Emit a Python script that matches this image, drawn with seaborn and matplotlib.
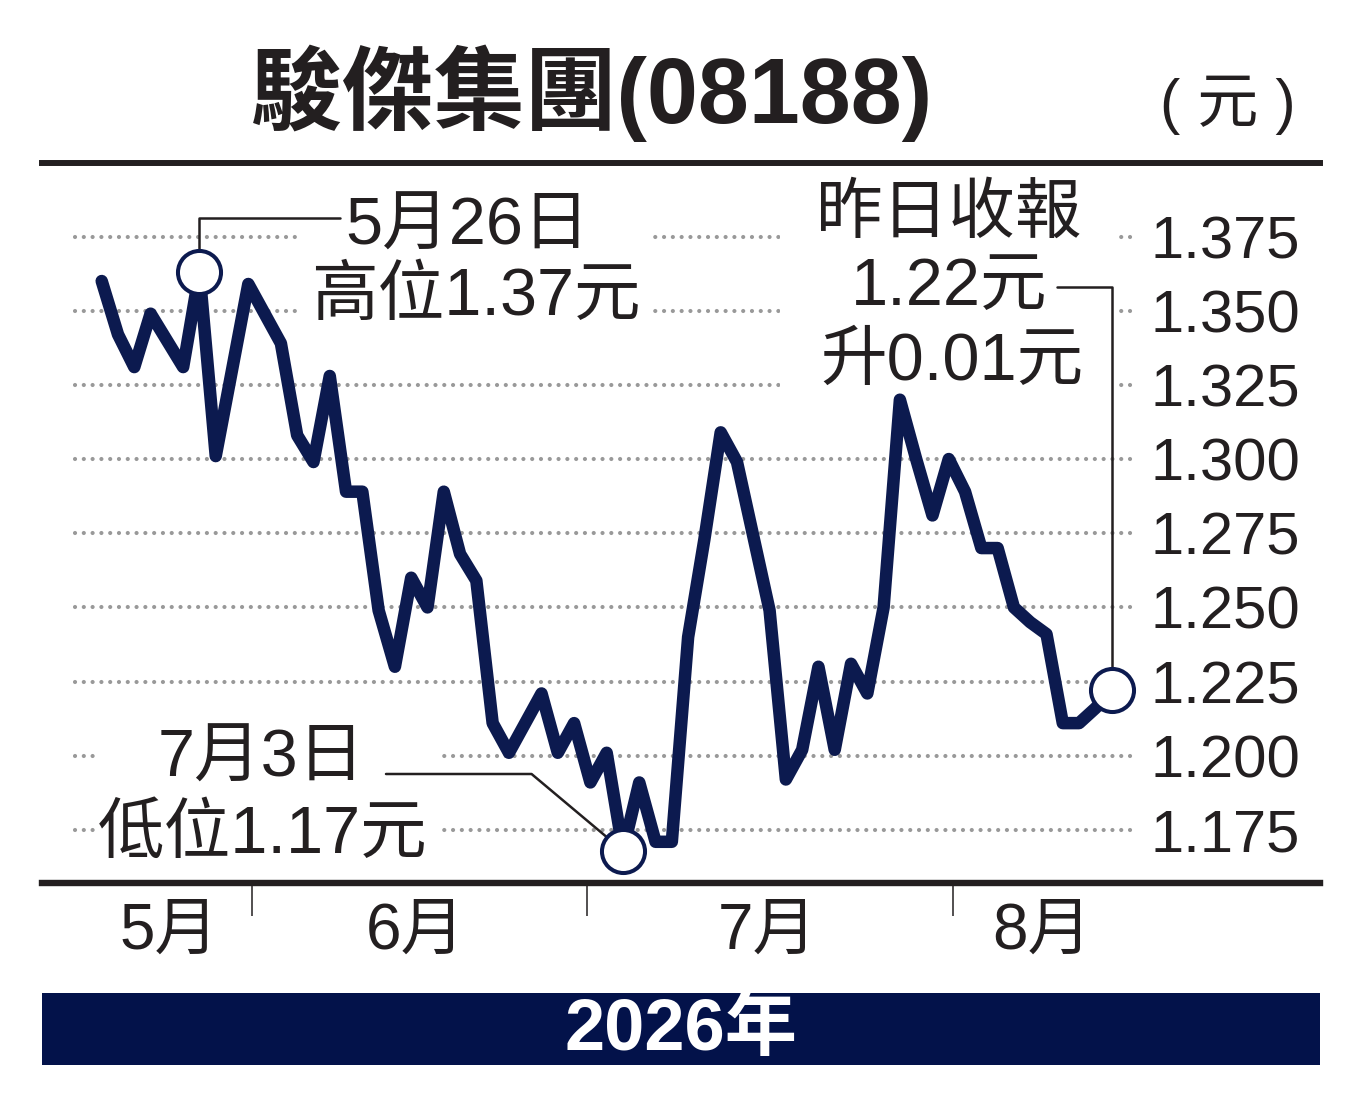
import matplotlib
matplotlib.use("Agg")
import matplotlib.pyplot as plt
from matplotlib.patches import Rectangle
import seaborn as sns
import pandas as pd

# Closing prices, one per trading day
prices = [1.360, 1.342, 1.331, 1.349, 1.340, 1.331, 1.363, 1.301, 1.330, 1.359,
          1.349, 1.339, 1.308, 1.299, 1.328, 1.289, 1.289, 1.249, 1.230, 1.260,
          1.250, 1.289, 1.268, 1.259, 1.211, 1.201, 1.211, 1.221, 1.201, 1.211,
          1.191, 1.201, 1.168, 1.191, 1.171, 1.171, 1.240, 1.273, 1.309, 1.299,
          1.274, 1.249, 1.192, 1.202, 1.230, 1.202, 1.231, 1.221, 1.250, 1.320,
          1.300, 1.281, 1.300, 1.289, 1.270, 1.270, 1.250, 1.245, 1.241, 1.211,
          1.211, 1.216, 1.222]
yticks = [1.175, 1.200, 1.225, 1.250, 1.275, 1.300, 1.325, 1.350, 1.375]
months = ['5月', '6月', '7月', '8月']
title = '駿傑集團(08188)'
unit = '( 元 )'
year_label = '2026年'
high_label = ['5月26日', '高位1.37元']
low_label = ['7月3日', '低位1.17元']
last_label = ['昨日收報', '1.22元', '升0.01元']

df = pd.DataFrame({'day': range(len(prices)), 'price': prices})

# layout helpers (figure pixels, origin top-left)
W, H = 1355, 1117
def fx(x):
    return x / W
def fy(y):
    return 1 - y / H

NAVY = '#0c1a4f'
BAR = '#03124a'
INK = '#231f20'
GRID = '#999999'

sns.set_theme(style='white')
plt.rcParams['font.family'] = ['Liberation Sans', 'Noto Sans CJK TC', 'DejaVu Sans']

fig = plt.figure(figsize=(W / 100, H / 100), dpi=100)
ax = fig.add_axes([fx(42), fy(882.5), fx(1320) - fx(42), fy(162.5) - fy(882.5)])
ax.set_xlim(-3.665, 74.79)
ax.set_ylim(1.15728, 1.39995)

for side in ['left', 'right']:
    ax.spines[side].set_visible(False)
ax.spines['top'].set_linewidth(4.3)
ax.spines['bottom'].set_linewidth(4.6)
ax.spines['top'].set_color(INK)
ax.spines['bottom'].set_color(INK)

# dotted gridlines
for v in yticks:
    ax.axhline(v, xmin=0.0258, xmax=0.8552, color=GRID, lw=3.0,
               linestyle=(0, (0.01, 2.1)), dash_capstyle='round', zorder=1)

# price line
sns.lineplot(data=df, x='day', y='price', ax=ax, color=NAVY, linewidth=9,
             sort=False, zorder=3, solid_joinstyle='round', solid_capstyle='round')

hi = df['price'].idxmax()
lo = df['price'].idxmin()
last = df.index[-1]
for i in (hi, lo, last):
    ax.plot(df['day'][i], df['price'][i], 'o', ms=31, mfc='white', mec=NAVY,
            mew=2.9, zorder=6)

# white boxes behind the callouts
for x0, y0, x1, y1 in [(297, 192, 652, 335), (95, 725, 440, 870), (780, 185, 1116, 398)]:
    ax.add_patch(Rectangle((fx(x0), fy(y1)), fx(x1) - fx(x0), fy(y0) - fy(y1),
                           transform=fig.transFigure, fc='white', ec='none',
                           zorder=2, clip_on=False))

# leader lines
lead = dict(arrowstyle='-', color=INK, lw=1.8, shrinkA=0, shrinkB=0)
ax.annotate('', xy=(df['day'][hi], df['price'][hi]), xytext=(340, H - 218),
            textcoords='figure pixels', zorder=4,
            arrowprops=dict(lead, connectionstyle='angle,angleA=0,angleB=90,rad=0'))
ax.annotate('', xy=(df['day'][lo], df['price'][lo]), xytext=(386, H - 774),
            textcoords='figure pixels', zorder=4,
            arrowprops=dict(lead, connectionstyle='angle,angleA=0,angleB=140,rad=0'))
ax.annotate('', xy=(df['day'][last], df['price'][last]), xytext=(1057, H - 287),
            textcoords='figure pixels', zorder=4,
            arrowprops=dict(lead, connectionstyle='angle,angleA=0,angleB=90,rad=0'))

# callout texts
callouts = [(high_label, [(468, 228), (476, 298)]),
            (low_label, [(261, 760), (263, 836)]),
            (last_label, [(949, 216), (949, 288), (952, 363)])]
for lines, pos in callouts:
    for s, (cx, cy) in zip(lines, pos):
        ax.text(fx(cx), fy(cy), s, transform=fig.transFigure, ha='center',
                va='center', fontsize=48, color=INK, zorder=5)

# y tick labels on the right, inside the frame
ax.yaxis.tick_right()
ax.set_yticks(yticks)
ax.set_yticklabels([f'{v:.3f}' for v in yticks])
ax.tick_params(axis='y', length=0, pad=-122, labelsize=43, labelcolor=INK)

# month labels and dividers
ax.set_xticks([4.13, 19.23, 40.84, 57.72])
ax.set_xticklabels(months)
ax.set_xticks([9.23, 29.79, 52.26], minor=True)
ax.tick_params(axis='x', which='major', length=0, pad=14, labelsize=46, labelcolor=INK)
ax.tick_params(axis='x', which='minor', bottom=True, length=23.8, width=1.1,
               color=INK, direction='out')
ax.set_xlabel('')
ax.set_ylabel('')

# title and unit
fig.text(fx(592), fy(93), title, ha='center', va='center', fontsize=66,
         weight='bold', color=INK)
fig.text(fx(1228), fy(105), unit, ha='center', va='center', fontsize=44, color=INK)

# year bar
fig.add_artist(Rectangle((fx(42), fy(1065)), fx(1320) - fx(42), fy(993) - fy(1065),
                         transform=fig.transFigure, fc=BAR, ec='none'))
fig.text(fx(681), fy(1031), year_label, ha='center', va='center', fontsize=52,
         weight='bold', color='white')

fig.savefig('out.png', dpi=100)
